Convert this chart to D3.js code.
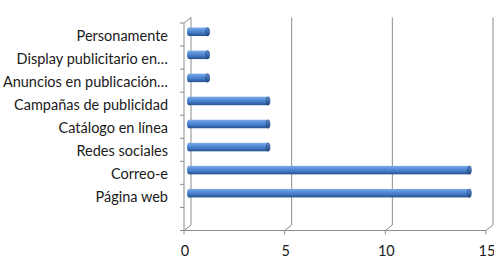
<!DOCTYPE html>
<html>
  <head>
    <meta charset="UTF-8" />
    <title>Canales</title>
    <script src="https://d3js.org/d3.v7.min.js"></script>
    <style>
      body { margin: 0; background: #fff; }
      text { font-family: Lato, 'Liberation Sans', Arial, sans-serif; fill: #1a1a1a; }
    </style>
  </head>
  <body>
    <div id="main"></div>
    <script type="text/javascript">
      const categories = [
        'Personamente',
        'Display publicitario en…',
        'Anuncios en publicación…',
        'Campañas de publicidad',
        'Catálogo en línea',
        'Redes sociales',
        'Correo-e',
        'Página web',
        ''
      ];
      const values = [1, 1, 1, 4, 4, 4, 14, 14, null];
      const xTicks = [0, 5, 10, 15];

      const width = 494;
      const height = 257;
      // depth offset of the 3D back wall
      const dx = 7;
      const dy = -5.5;
      const gridColor = '#8c8c8c';

      const svg = d3
        .select('div#main')
        .append('svg')
        .attr('width', width)
        .attr('height', height);

      const x = d3.scaleLinear().domain([0, 15]).range([184, 486]);
      const y = d3.scaleBand().domain(categories).range([23, 230.5]);

      const defs = svg.append('defs');
      const grad = defs
        .append('linearGradient')
        .attr('id', 'barGrad')
        .attr('x1', 0).attr('y1', 0).attr('x2', 0).attr('y2', 1);
      [['0%', '#7eaaea'], ['30%', '#5c92dc'], ['65%', '#4276c2'], ['100%', '#25508c']].forEach(s => {
        grad.append('stop').attr('offset', s[0]).attr('stop-color', s[1]);
      });
      const capGrad = defs
        .append('linearGradient')
        .attr('id', 'capGrad')
        .attr('x1', 0).attr('y1', 0).attr('x2', 0).attr('y2', 1);
      [['0%', '#6591cf'], ['50%', '#3d6cb0'], ['100%', '#23467c']].forEach(s => {
        capGrad.append('stop').attr('offset', s[0]).attr('stop-color', s[1]);
      });

      const yTop = y.range()[0];
      const yBot = y.range()[1];

      // back wall gridlines + floor
      const grid = svg.append('g').attr('stroke', gridColor).attr('fill', 'none').attr('stroke-width', 1);
      grid.selectAll('line.v')
        .data(xTicks)
        .enter()
        .append('line')
        .attr('x1', d => x(d) + dx)
        .attr('x2', d => x(d) + dx)
        .attr('y1', yTop + dy)
        .attr('y2', yBot + dy);
      grid.selectAll('line.f')
        .data(xTicks)
        .enter()
        .append('line')
        .attr('x1', d => x(d) + dx)
        .attr('x2', d => x(d))
        .attr('y1', yBot + dy)
        .attr('y2', yBot);
      // left wall top edge
      grid.append('line')
        .attr('x1', x(0)).attr('y1', yTop)
        .attr('x2', x(0) + dx).attr('y2', yTop + dy);

      // front axes
      const axis = svg.append('g').attr('stroke', gridColor).attr('stroke-width', 1);
      axis.append('line')
        .attr('x1', x(0)).attr('x2', x(0))
        .attr('y1', yTop).attr('y2', yBot);
      axis.append('line')
        .attr('x1', x(0)).attr('x2', x(15))
        .attr('y1', yBot).attr('y2', yBot);
      const boundaries = categories.map(c => y(c)).concat([yBot]);
      axis.selectAll('line.yt')
        .data(boundaries)
        .enter()
        .append('line')
        .attr('x1', x(0) - 4).attr('x2', x(0))
        .attr('y1', d => d).attr('y2', d => d);
      axis.selectAll('line.xt')
        .data(xTicks)
        .enter()
        .append('line')
        .attr('x1', d => x(d)).attr('x2', d => x(d))
        .attr('y1', yBot).attr('y2', yBot + 4);

      // cylinder bars at mid depth
      const bh = 8.5;
      const bars = svg.append('g')
        .selectAll('g')
        .data(categories.map((c, i) => ({ c, v: values[i] })).filter(d => d.v))
        .enter()
        .append('g')
        .attr('transform', d => `translate(${dx / 2},${y(d.c) + y.bandwidth() / 2 + dy / 2 - bh / 2})`);
      bars.append('ellipse')
        .attr('cx', x(0) + 1.5).attr('cy', bh / 2)
        .attr('rx', 2).attr('ry', bh / 2)
        .attr('fill', 'url(#barGrad)');
      bars.append('rect')
        .attr('x', x(0) + 1.5)
        .attr('y', 0)
        .attr('width', d => x(d.v) - x(0) - 1.5)
        .attr('height', bh)
        .attr('fill', 'url(#barGrad)');
      bars.append('ellipse')
        .attr('cx', d => x(d.v))
        .attr('cy', bh / 2)
        .attr('rx', 2).attr('ry', bh / 2)
        .attr('fill', 'url(#capGrad)')
        .attr('stroke', '#2a4f88')
        .attr('stroke-width', 0.6);

      // category labels
      svg.append('g')
        .selectAll('text')
        .data(categories)
        .enter()
        .append('text')
        .attr('x', 168)
        .attr('y', d => y(d) + y.bandwidth() / 2 + 1)
        .attr('text-anchor', 'end')
        .attr('dominant-baseline', 'central')
        .attr('font-size', 14.5)
        .text(d => d);

      // x tick labels
      svg.append('g')
        .selectAll('text')
        .data(xTicks)
        .enter()
        .append('text')
        .attr('x', d => x(d) + 1)
        .attr('y', 250)
        .attr('text-anchor', 'middle')
        .attr('dominant-baseline', 'central')
        .attr('font-size', 14.5)
        .text(d => d);
    </script>
  </body>
</html>
